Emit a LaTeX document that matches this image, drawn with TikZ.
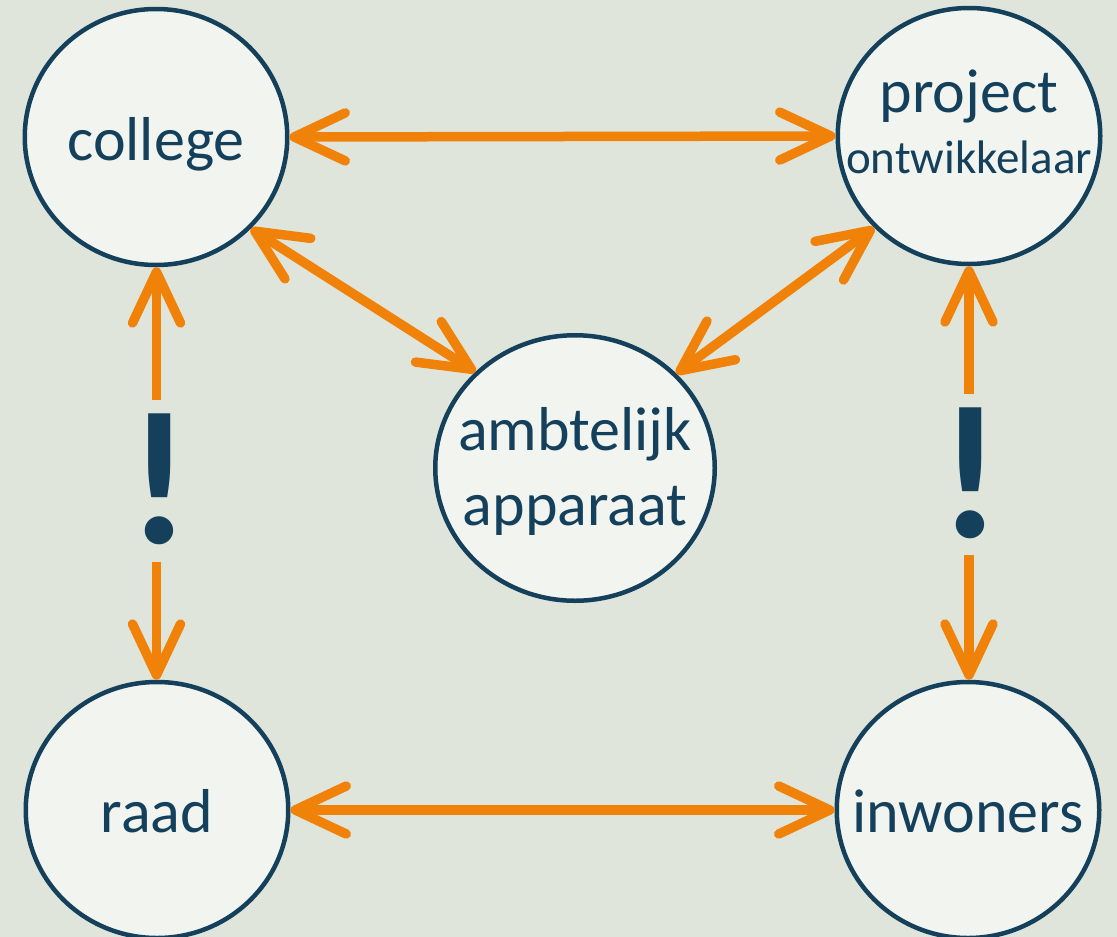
\documentclass[tikz,border=0pt]{standalone}
\usepackage{fontspec}
\setmainfont{Carlito}
\usetikzlibrary{shapes.geometric,arrows.meta}
\definecolor{bgc}{HTML}{DFE5DA}
\definecolor{fillc}{HTML}{F2F5EF}
\definecolor{navy}{HTML}{15405C}
\definecolor{orng}{HTML}{F0820A}
\tikzset{
  circ/.style={ellipse, draw=navy, line width=4.5pt, fill=fillc, inner sep=0pt,
    minimum width=262.5pt, minimum height=256pt},
  bigcirc/.style={circ, minimum width=279.5pt, minimum height=265.5pt},
  lbl/.style={anchor=base, text=navy, inner sep=0pt, font=\fontsize{62}{74}\selectfont},
  smalllbl/.style={lbl, font=\fontsize{47}{56}\selectfont},
  bang/.style={anchor=base, text=navy, inner sep=0pt, font=\fontsize{190}{190}\selectfont\bfseries},
  link/.style={draw=orng, line width=9.5pt},
  >={Straight Barb[length=51pt,width=48pt,round]}
}
\begin{document}
\begin{tikzpicture}[x=1pt,y=-1pt]
\useasboundingbox (0,0) rectangle (1117,937);
\clip (0,0) rectangle (1117,937);
\fill[bgc] (0,0) rectangle (1117,937);

\node[circ] (college) at (156,137) {};
\node[circ] (project) at (969,136) {};
\node[circ] (raad) at (157,810) {};
\node[circ] (inwoners) at (968,810) {};
\node[bigcirc] (ambt) at (575,468) {};

\node[lbl] (tcollege) at (156,160) {college};
\node[lbl] (tproject) at (969,112) {project};
\node[smalllbl] (tontw) at (969,173) {ontwikkelaar};
\node[lbl] (traad) at (157,832) {raad};
\node[lbl] (tinw) at (968,832) {inwoners};
\node[lbl] (tambt1) at (575,450) {ambtelijk};
\node[lbl] (tambt2) at (575,525) {apparaat};

\node[bang] (bangL) at (159,543) {!};
\node[bang] (bangR) at (970,537) {!};

% horizontal links
\draw[link,<->] (college.east) -- (project.west);
\draw[link,<->] (raad.east) -- (inwoners.west);

% diagonal links
\draw[link,<->] (college.-44) -- (ambt.136.7);
\draw[link,<->] (project.-136) -- (ambt.43.8);

% vertical links with gap
\coordinate (l1) at (156.5,400);
\coordinate (l2) at (156.5,562);
\coordinate (r1) at (969,394);
\coordinate (r2) at (969,555);
\draw[link,->] (l1) -- (l1 |- college.south);
\draw[link,->] (l2) -- (l2 |- raad.north);
\draw[link,->] (r1) -- (r1 |- project.south);
\draw[link,->] (r2) -- (r2 |- inwoners.north);
\end{tikzpicture}
\end{document}
